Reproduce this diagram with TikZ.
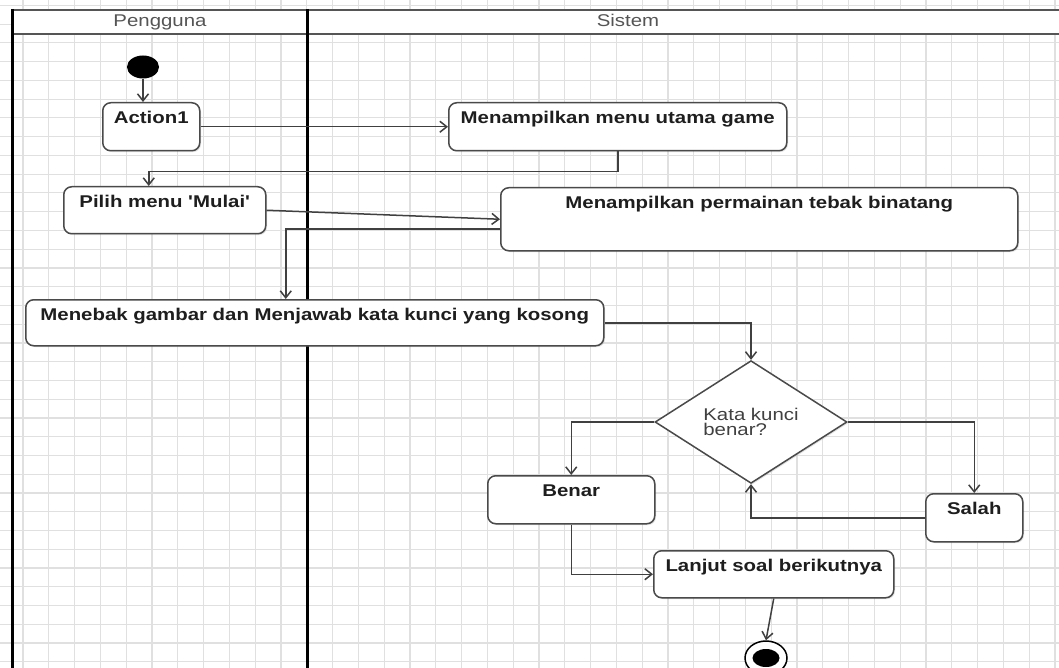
\documentclass[tikz,border=0pt]{standalone}
\usepackage{fontspec}
\setmainfont{Liberation Sans}[FakeStretch=1.2, Ligatures=TeXOff]
\usetikzlibrary{shapes.geometric,arrows.meta,shadows}
\definecolor{gridc}{HTML}{E0E0E0}
\definecolor{boxc}{HTML}{4A4A4A}
\definecolor{linec}{HTML}{404040}
\definecolor{txtc}{HTML}{1E1E1E}
\definecolor{hdrc}{HTML}{555555}
\begin{document}
\begin{tikzpicture}[x=1pt,y=-1pt,
  act/.style={draw=boxc, line width=1.5pt, rounded corners=8pt, fill=white,
    inner sep=0pt, align=center, anchor=north west, text height=21pt,
    font=\bfseries\fontsize{17}{17}\selectfont, text=txtc,
    drop shadow={opacity=0.22, shadow xshift=1.3pt, shadow yshift=-1.3pt}},
  conn/.style={draw=linec, line width=1.5pt, -{Straight Barb[length=7pt,width=11pt]}},
  hdr/.style={font=\fontsize{17}{17}\selectfont, text=hdrc, inner sep=0pt, anchor=base}]
\useasboundingbox (0,0) rectangle (1059,668);
\clip (0,0) rectangle (1059,668);
\fill[white] (0,0) rectangle (1059,668);
% grid
\foreach \k in {0,...,42} {\draw[gridc, line width=1.1pt] ({-2.8+25.8*\k},0) -- ({-2.8+25.8*\k},668);}
\foreach \k in {0,...,36} {\draw[gridc, line width=1.1pt] (0,{5.45+18.75*\k}) -- (1059,{5.45+18.75*\k});}
% swimlanes
\fill[white] (12,10) rectangle (1070,34);
\draw[hdrc, line width=2.6pt] (12,10) -- (1070,10);
\draw[hdrc, line width=2.6pt] (12,34) -- (1070,34);
\draw[black, line width=3pt] (12,9) -- (12,680);
\draw[black, line width=3pt] (307,9) -- (307,680);
\node[hdr] (lane1) at (160,27) {Pengguna};
\node[hdr] (lane2) at (628,27) {Sistem};
% nodes
\node[ellipse, fill=black, minimum width=32pt, minimum height=23pt, inner sep=0pt] (start) at (143,67) {};
\node[act, text width=97pt, text depth=27pt] (a1) at (102,102) {Action1};
\node[act, text width=338pt, text depth=27pt] (m1) at (448,102) {Menampilkan menu utama game};
\node[act, text width=202pt, text depth=26pt] (p1) at (63,186) {Pilih menu 'Mulai'};
\node[act, text width=517pt, text depth=42pt] (m2) at (500,187) {Menampilkan permainan tebak binatang};
\node[act, text width=578pt, text depth=25pt] (t1) at (25,299) {Menebak gambar dan Menjawab kata kunci yang kosong};
\node[diamond, draw=boxc, line width=1.5pt, fill=white, minimum width=192pt, minimum height=120pt,
  inner sep=0pt, align=left, font=\fontsize{17}{15}\selectfont, text=txtc!85,
  drop shadow={opacity=0.22, shadow xshift=1.3pt, shadow yshift=-1.3pt}] (d) at (751,422) {Kata kunci\\benar?};
\node[act, text width=167pt, text depth=27pt] (b) at (487,475) {Benar};
\node[act, text width=97pt, text depth=27pt] (s) at (925,493) {Salah};
\node[act, text width=240pt, text depth=26pt] (l) at (653,550) {Lanjut soal berikutnya};
\node[ellipse, draw=black, line width=1.5pt, fill=white, minimum width=42pt, minimum height=34pt, inner sep=0pt] (end) at (766,658) {};
\node[ellipse, fill=black, minimum width=27pt, minimum height=18pt, inner sep=0pt] (endin) at (end.center) {};
% connectors
\draw[conn] (start.south) -- (start.south |- a1.north);
\draw[conn] (a1.east) -- (m1.west);
\draw[conn] (m1.south) -- ++(0,20) -| ([xshift=-16pt]p1.north);
\draw[conn] (p1.east) -- (m2.west);
\draw[conn] ([yshift=-10pt]m2.west) -| ([xshift=-29pt]t1.north);
\draw[conn] (t1.east) -| (d.north);
\draw[conn] (d.west) -| (b.north);
\draw[conn] (d.east) -| (s.north);
\draw[conn] (s.west) -| (d.south);
\draw[conn] (b.south) |- (l.west);
\draw[conn] (l.south) -- (end.north);
\end{tikzpicture}
\end{document}
